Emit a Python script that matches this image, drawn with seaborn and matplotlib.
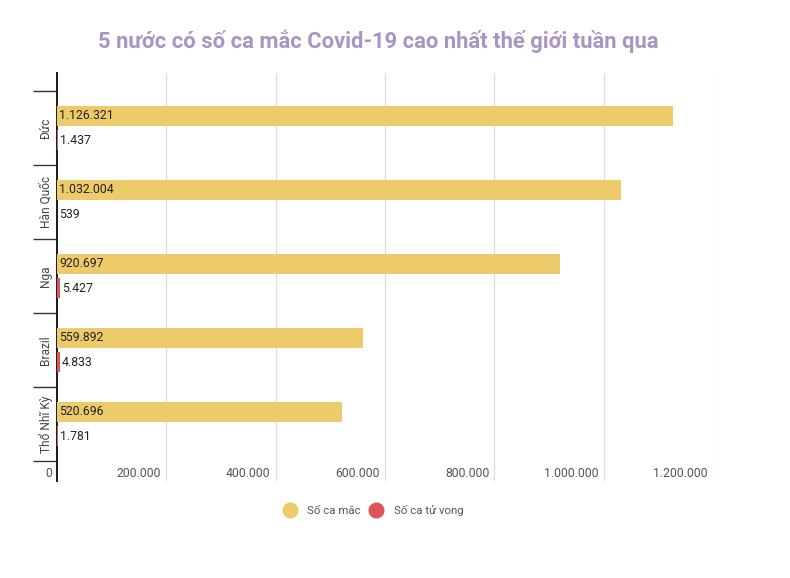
import matplotlib
matplotlib.use("Agg")
import matplotlib.pyplot as plt
import matplotlib.transforms as mtransforms
from matplotlib.lines import Line2D
import pandas as pd
import seaborn as sns

countries = ["Đức", "Hàn Quốc", "Nga", "Brazil", "Thổ Nhĩ Kỳ"]
cases = [1126321, 1032004, 920697, 559892, 520696]
deaths = [1437, 539, 5427, 4833, 1781]
x_ticks = [0, 200000, 400000, 600000, 800000, 1000000, 1200000]
x_labels = ["0", "200.000", "400.000", "600.000", "800.000", "1.000.000", "1.200.000"]
series = ["Số ca mắc", "Số ca tử vong"]
title = "5 nước có số ca mắc Covid-19 cao nhất thế giới tuần qua"

YELLOW = "#edcb6b"
RED = "#dc5458"
W, H = 790, 578


def fmt(v):
    return f"{v:,}".replace(",", ".")


sns.set_theme(style="whitegrid")
plt.rcParams["font.family"] = ["Roboto", "DejaVu Sans"]

df = pd.DataFrame({"country": countries, series[0]: cases, series[1]: deaths})
long_df = df.melt(id_vars="country", var_name="series", value_name="value")

fig = plt.figure(figsize=(W / 100, H / 100), dpi=100, facecolor="white")
ax = fig.add_axes([57 / W, 1 - 481 / H, (713 - 57) / W, (481 - 73) / H])

sns.barplot(
    data=long_df, y="country", x="value", hue="series", order=countries,
    hue_order=series, palette=[YELLOW, RED], orient="h",
    width=0.654, gap=0.17, legend=False, saturation=1, linewidth=0, ax=ax,
)

ax.set_xlim(0, 1200000)
ax.set_ylim(4.771, -0.743)
ax.set_xlabel("")
ax.set_ylabel("")
ax.set_xticks(x_ticks)
ax.set_xticklabels(x_labels, ha="right")
ax.grid(axis="x", color="#dddddd", linewidth=0.9)
ax.grid(axis="y", visible=False)
ax.set_axisbelow(True)
for side in ["top", "right", "bottom"]:
    ax.spines[side].set_visible(False)
ax.spines["left"].set_color("#1a1a1a")
ax.spines["left"].set_linewidth(1.4)
ax.spines["left"].set_zorder(0.6)

ax.tick_params(axis="x", length=0, pad=-10.4, labelsize=8.8, labelcolor="#555555")
shift = mtransforms.ScaledTranslation(-5 / 100, 0, fig.dpi_scale_trans)
for lab in ax.get_xticklabels():
    lab.set_transform(lab.get_transform() + shift)

# category names sit between long separators
ax.set_yticks(range(len(countries)))
ax.set_yticklabels(countries, rotation=90, va="center", ha="center")
ax.tick_params(axis="y", which="major", length=0, pad=8, labelsize=8.6, labelcolor="#444444")
ax.set_yticks([i - 0.5 for i in range(len(countries) + 1)], minor=True)
ax.tick_params(axis="y", which="minor", left=True, length=17, width=1, color="#333333")

for i, (c, d) in enumerate(zip(cases, deaths)):
    ax.annotate(fmt(c), (0, i - 0.162), xytext=(2, 0), textcoords="offset pixels",
                va="center", ha="left", fontsize=8.8, color="#222222")
    ax.annotate(fmt(d), (d, i + 0.176), xytext=(2, 0), textcoords="offset pixels",
                va="center", ha="left", fontsize=8.8, color="#222222")

fig.text(378 / W, 1 - 41 / H, title, ha="center", va="center", fontsize=15.8,
         fontweight="bold", color="#a994c4")

handles = [
    Line2D([], [], marker="o", linestyle="", markersize=10.5, color=YELLOW),
    Line2D([], [], marker="o", linestyle="", markersize=10.5, color=RED),
]
fig.legend(handles, series, loc="center", bbox_to_anchor=(371 / W, 1 - 510 / H), ncol=2,
           frameon=False, fontsize=8.2, labelcolor="#555555", handletextpad=0.55,
           columnspacing=0.35)

fig.savefig("out.png", dpi=100)
plt.close(fig)
